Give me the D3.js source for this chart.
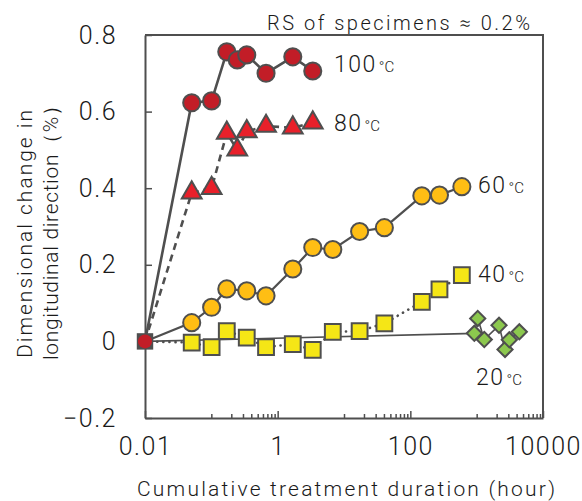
<!DOCTYPE html>
<html>
<head>
<meta charset="utf-8">
<script src="https://cdn.jsdelivr.net/npm/d3@7"></script>
<style>
  body { margin: 0; background: #fff; }
  text { font-family: Roboto, "Noto Sans", sans-serif; fill: #1a1a1a; font-weight: 300; }
</style>
</head>
<body>
<script>
// Data (hours, dimensional change %)

const hours100 = [0.01, 0.0506, 0.101, 0.171, 0.246, 0.342, 0.668, 1.69, 3.38];
const dim100   = [0, 0.623, 0.628, 0.756, 0.735, 0.748, 0.700, 0.743, 0.706];

const hours80 = [0.01, 0.0506, 0.101, 0.171, 0.246, 0.342, 0.668, 1.69, 3.38];
const dim80   = [0, 0.388, 0.400, 0.544, 0.500, 0.548, 0.562, 0.558, 0.571];

const hours60 = [0.01, 0.0506, 0.101, 0.171, 0.342, 0.668, 1.69, 3.38, 6.78, 17.2, 40.6, 149, 275, 598];
const dim60   = [0, 0.049, 0.089, 0.137, 0.132, 0.119, 0.189, 0.245, 0.240, 0.287, 0.297, 0.380, 0.382, 0.404];

const hours40 = [0.01, 0.0506, 0.101, 0.171, 0.342, 0.668, 1.69, 3.38, 6.78, 17.2, 40.6, 149, 275, 598];
const dim40   = [0, -0.003, -0.015, 0.027, 0.010, -0.015, -0.007, -0.022, 0.025, 0.027, 0.047, 0.103, 0.136, 0.173];

const hours20 = [0.01, 922, 1037, 1303, 2172, 2675, 3105, 4395];
const dim20   = [0, 0.021, 0.060, 0.005, 0.042, -0.021, 0.004, 0.025];

const seriesNames = ["20", "40", "60", "80", "100"];
const xTicks = [0.01, 1, 100, 10000];
const xTickLabels = ["0.01", "1", "100", "10000"];
const yTicks = [-0.2, 0, 0.2, 0.4, 0.6, 0.8];
const yTickLabels = ["\u22120.2", "0", "0.2", "0.4", "0.6", "0.8"];

// Set Dimensions

const width = 582, height = 501;
const xLeft = 145, xRight = 543, yTop = 35, yBottom = 418;
const axisColor = "#4f4f4f";

const svg = d3.select("body").append("svg")
  .attr("width", width)
  .attr("height", height);

const x = d3.scaleLog().domain([0.01, 10000]).range([xLeft, xRight]);
const y = d3.scaleLinear().domain([-0.2, 0.8]).range([yBottom, yTop]);

// frame (top and right)

svg.append("path")
  .attr("d", `M${xLeft},${yTop}H${xRight}V${yBottom}`)
  .attr("fill", "none")
  .attr("stroke", axisColor)
  .attr("stroke-width", 2);

// minor ticks only in every other decade, as in the original

const minorTicks = [];
[0.1, 10, 1000].forEach(base => {
  for (let i = 1; i < 10; i++) minorTicks.push(base * i);
});

const xMinor = svg.append("g")
  .attr("transform", `translate(0,${yBottom})`)
  .call(d3.axisBottom(x).tickValues(minorTicks).tickSizeInner(-4).tickSizeOuter(0).tickFormat(""));
xMinor.select(".domain").remove();
xMinor.selectAll("line").attr("stroke", axisColor).attr("stroke-width", 1.5);

const xAxis = svg.append("g")
  .attr("transform", `translate(0,${yBottom})`)
  .call(d3.axisBottom(x).tickValues(xTicks).tickSizeInner(-7).tickSizeOuter(0).tickPadding(19)
    .tickFormat((d, i) => xTickLabels[i]));

const yAxis = svg.append("g")
  .attr("transform", `translate(${xLeft},0)`)
  .call(d3.axisLeft(y).tickValues(yTicks).tickSizeInner(-7).tickSizeOuter(0).tickPadding(28)
    .tickFormat((d, i) => yTickLabels[i]));

[xAxis, yAxis].forEach(g => {
  g.select(".domain").attr("stroke", axisColor).attr("stroke-width", 2);
  g.selectAll("line").attr("stroke", axisColor).attr("stroke-width", 1.5);
  g.selectAll("text")
    .attr("fill", "#1a1a1a")
    .style("font-family", "Roboto, sans-serif")
    .style("font-weight", "300")
    .style("font-size", "25px")
    .style("letter-spacing", "1.5px");
});

// axis titles

svg.append("text")
  .attr("x", 137).attr("y", 496)
  .attr("textLength", 418).attr("lengthAdjust", "spacing")
  .style("font-size", "21px")
  .text("Cumulative treatment duration (hour)");

svg.append("text")
  .attr("transform", "translate(32,358) rotate(-90)")
  .attr("textLength", 248).attr("lengthAdjust", "spacing")
  .style("font-size", "21px")
  .text("Dimensional change in");

svg.append("text")
  .attr("transform", "translate(58,360) rotate(-90)")
  .attr("textLength", 265).attr("lengthAdjust", "spacing")
  .style("font-size", "21px")
  .text("longitudinal direction（%）");

svg.append("text")
  .attr("x", 267).attr("y", 30)
  .attr("textLength", 263).attr("lengthAdjust", "spacing")
  .style("font-size", "20px")
  .text("RS of specimens ≈ 0.2%");

// Series

const series = [
  { hours: hours20,  dims: dim20,  fill: "#8cc84e", symbol: d3.symbolSquare, rotate: 45, size: 115, dash: null,     lw: 1.6 },
  { hours: hours40,  dims: dim40,  fill: "#f5e616", symbol: d3.symbolSquare, rotate: 0,  size: 250, dash: "0.1,6", lw: 2.6 },
  { hours: hours60,  dims: dim60,  fill: "#ffbe14", symbol: d3.symbolCircle, rotate: 0,  size: 230, dash: null,     lw: 2.2 },
  { hours: hours80,  dims: dim80,  fill: "#e8202a", symbol: d3.symbolTriangle, rotate: 0, size: 170, dash: "7,5",  lw: 2.6 },
  { hours: hours100, dims: dim100, fill: "#c21d27", symbol: d3.symbolCircle, rotate: 0,  size: 230, dash: null,     lw: 2.6 }
];

const line = d3.line().x(d => x(d.h)).y(d => y(d.v));

series.forEach(s => {
  const pts = s.hours.map((h, i) => ({ h: h, v: s.dims[i] }));
  svg.append("path")
    .datum(pts)
    .attr("fill", "none")
    .attr("stroke", axisColor)
    .attr("stroke-width", s.lw)
    .attr("stroke-linecap", s.dash === "0.1,6" ? "round" : "butt")
    .attr("stroke-dasharray", s.dash)
    .attr("d", line);
});

series.forEach(s => {
  const pts = s.hours.map((h, i) => ({ h: h, v: s.dims[i] })).slice(1);
  svg.append("g").selectAll("path")
    .data(pts)
    .join("path")
    .attr("transform", d => `translate(${x(d.h)},${y(d.v)}) rotate(${s.rotate})`)
    .attr("d", d3.symbol(s.symbol, s.size))
    .attr("fill", s.fill)
    .attr("stroke", axisColor)
    .attr("stroke-width", 2);
});

// shared origin point: grey square under the red circle

svg.append("path")
  .attr("transform", `translate(${x(hours40[0])},${y(dim40[0])})`)
  .attr("d", d3.symbol(d3.symbolSquare, 270))
  .attr("fill", axisColor);
svg.append("circle")
  .attr("cx", x(hours100[0])).attr("cy", y(dim100[0]))
  .attr("r", 7)
  .attr("fill", "#c21d27");

// series labels

const labelPos = [
  { name: seriesNames[4], x: 334, y: 72 },
  { name: seriesNames[3], x: 334, y: 131 },
  { name: seriesNames[2], x: 478, y: 193 },
  { name: seriesNames[1], x: 478, y: 282 },
  { name: seriesNames[0], x: 476, y: 385 }
];

labelPos.forEach(l => {
  const t = svg.append("text").attr("x", l.x).attr("y", l.y);
  t.append("tspan").style("font-size", "23px").style("letter-spacing", "1.5px").text(l.name);
  t.append("tspan").style("font-size", "15px").attr("dx", 2).text("°C");
});
</script>
</body>
</html>
